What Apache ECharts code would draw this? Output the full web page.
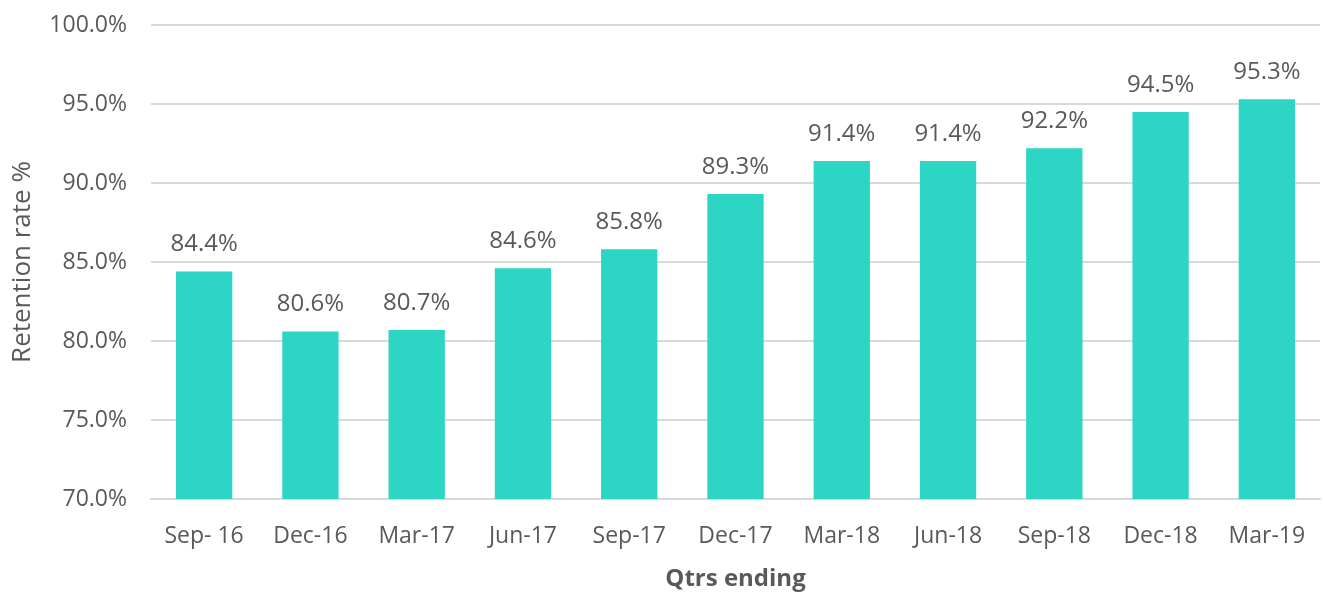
<!DOCTYPE html>
<html>
<head>
<meta charset="utf-8">
<script src="https://cdn.jsdelivr.net/npm/echarts@6/dist/echarts.min.js"></script>
<style>
  html, body { margin: 0; padding: 0; background: #fff; }
  #chart { width: 1324px; height: 596px; }
</style>
</head>
<body>
<div id="chart"></div>
<script>
const quarters = ['Sep- 16', 'Dec-16', 'Mar-17', 'Jun-17', 'Sep-17', 'Dec-17', 'Mar-18', 'Jun-18', 'Sep-18', 'Dec-18', 'Mar-19']
const retention = [84.4, 80.6, 80.7, 84.6, 85.8, 89.3, 91.4, 91.4, 92.2, 94.5, 95.3]

const textColor = '#595959'
const fontFamily = '"Open Sans", "Noto Sans", sans-serif'

const chart = echarts.init(document.getElementById('chart'))
chart.setOption({
  animation: false,
  textStyle: { fontFamily },
  grid: { left: 151, right: 4, top: 25, bottom: 93 },
  xAxis: {
    type: 'category',
    data: quarters,
    name: 'Qtrs ending',
    nameLocation: 'middle',
    nameGap: 68,
    nameTextStyle: { fontSize: 24, fontWeight: 'bold', color: textColor, fontFamily },
    axisLine: { lineStyle: { color: '#d9d9d9', width: 2 } },
    axisTick: { show: false },
    axisLabel: { color: textColor, fontSize: 23, margin: 26, fontFamily }
  },
  yAxis: {
    type: 'value',
    min: 70,
    max: 100,
    interval: 5,
    name: 'Retention rate %',
    nameLocation: 'middle',
    nameGap: 115,
    nameTextStyle: { fontSize: 26, color: textColor, fontFamily },
    axisLine: { show: false },
    axisTick: { show: false },
    axisLabel: {
      color: textColor, fontSize: 23, margin: 24, fontFamily,
      formatter: v => v.toFixed(1) + '%'
    },
    splitLine: { lineStyle: { color: '#d9d9d9', width: 2 } }
  },
  series: [{
    type: 'bar',
    data: retention,
    barWidth: '53%',
    itemStyle: { color: '#2dd5c4' },
    label: {
      show: true,
      position: 'top',
      distance: 15,
      color: textColor,
      fontSize: 24,
      fontFamily,
      formatter: p => p.value.toFixed(1) + '%'
    }
  }]
})
</script>
</body>
</html>
